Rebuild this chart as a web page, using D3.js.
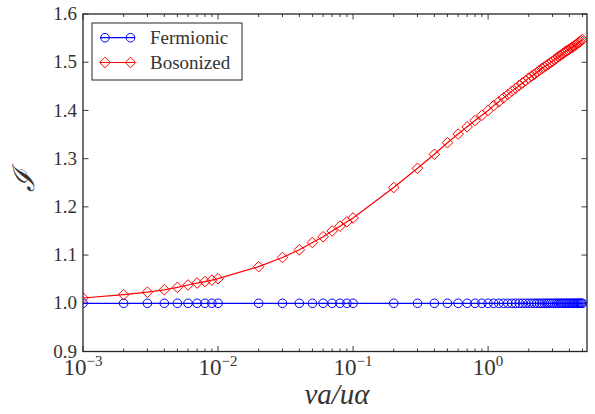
<!DOCTYPE html>
<html>
<head>
<meta charset="utf-8">
<script src="https://cdn.jsdelivr.net/npm/d3@7"></script>
<style>
  html, body { margin: 0; padding: 0; background: #fff; }
  svg { display: block; }
</style>
</head>
<body>
<svg id="chart" width="595" height="414"></svg>
<script>
// ---------- data ----------
const xValues = [
  0.001, 0.002, 0.003, 0.004, 0.005, 0.006, 0.007, 0.008, 0.009,
  0.01, 0.02, 0.03, 0.04, 0.05, 0.06, 0.07, 0.08, 0.09,
  0.1, 0.2, 0.3, 0.4, 0.5, 0.6, 0.7, 0.8, 0.9,
  1.0, 1.1, 1.2, 1.3, 1.4, 1.5, 1.6, 1.7, 1.8, 1.9,
  2.0, 2.1, 2.2, 2.3, 2.4, 2.5, 2.6, 2.7, 2.8, 2.9,
  3.0, 3.1, 3.2, 3.3, 3.4, 3.5, 3.6, 3.7, 3.8, 3.9,
  4.0, 4.1, 4.2, 4.3, 4.4, 4.5, 4.6, 4.7, 4.8, 4.9,
  5.0
];
const fermionic = [
  1, 1, 1, 1, 1, 1, 1, 1, 1,
  1, 1, 1, 1, 1, 1, 1, 1, 1,
  1, 1, 1, 1, 1, 1, 1, 1, 1,
  1, 1, 1, 1, 1, 1, 1, 1, 1, 1,
  1, 1, 1, 1, 1, 1, 1, 1, 1, 1,
  1, 1, 1, 1, 1, 1, 1, 1, 1, 1,
  1, 1, 1, 1, 1, 1, 1, 1, 1, 1,
  1
];
const bosonized = [
  1.011, 1.018, 1.023, 1.028, 1.033, 1.038, 1.042, 1.045, 1.048,
  1.051, 1.076, 1.095, 1.111, 1.126, 1.138, 1.150, 1.160, 1.169,
  1.177, 1.240, 1.280, 1.309, 1.333, 1.351, 1.366, 1.379, 1.390,
  1.400, 1.410, 1.418, 1.426, 1.433, 1.440, 1.446, 1.452, 1.457, 1.462,
  1.467, 1.471, 1.475, 1.479, 1.483, 1.487, 1.490, 1.493, 1.496, 1.499,
  1.502, 1.505, 1.508, 1.511, 1.513, 1.516, 1.518, 1.521, 1.523, 1.525,
  1.527, 1.529, 1.531, 1.533, 1.535, 1.537, 1.539, 1.541, 1.543, 1.545,
  1.547
];
const seriesNames = ["Fermionic", "Bosonized"];
const yTickValues = [0.9, 1.0, 1.1, 1.2, 1.3, 1.4, 1.5, 1.6];
const yTickLabels = ["0.9", "1.0", "1.1", "1.2", "1.3", "1.4", "1.5", "1.6"];
const xMajorTicks = [0.001, 0.01, 0.1, 1];
const xMajorExponents = ["\u22123", "\u22122", "\u22121", "0"];
const xDomain = [0.001, 5.4];
const yDomain = [0.9, 1.6];

// ---------- layout ----------
const svg = d3.select("#chart");
const L = 83, R = 587, T = 14, B = 351.5;
const axisColor = "#262626";
const textColor = "#333333";
const blue = "#0000ff", red = "#ff0000";
const serif = "'Liberation Serif', 'Times New Roman', serif";

const x = d3.scaleLog().domain(xDomain).range([L, R]);
const y = d3.scaleLinear().domain(yDomain).range([B, T]);

svg.append("defs").append("clipPath").attr("id", "clip")
  .append("rect").attr("x", L).attr("y", T).attr("width", R - L).attr("height", B - T);

// minor x ticks
const minorTicks = [];
for (let d = -3; d <= 0; d++) {
  for (let m = 2; m <= 9; m++) {
    const v = m * Math.pow(10, d);
    if (v <= xDomain[1]) minorTicks.push(v);
  }
}

const gAxes = svg.append("g");
minorTicks.forEach(v => {
  gAxes.append("line").attr("x1", x(v)).attr("x2", x(v)).attr("y1", B).attr("y2", B - 3)
    .attr("stroke", axisColor).attr("stroke-width", 0.9);
  gAxes.append("line").attr("x1", x(v)).attr("x2", x(v)).attr("y1", T).attr("y2", T + 3)
    .attr("stroke", axisColor).attr("stroke-width", 0.9);
});
xMajorTicks.forEach(v => {
  gAxes.append("line").attr("x1", x(v)).attr("x2", x(v)).attr("y1", B).attr("y2", B - 5.5)
    .attr("stroke", axisColor).attr("stroke-width", 0.9);
  gAxes.append("line").attr("x1", x(v)).attr("x2", x(v)).attr("y1", T).attr("y2", T + 5.5)
    .attr("stroke", axisColor).attr("stroke-width", 0.9);
});
yTickValues.forEach(v => {
  gAxes.append("line").attr("x1", L).attr("x2", L + 5.5).attr("y1", y(v)).attr("y2", y(v))
    .attr("stroke", axisColor).attr("stroke-width", 0.9);
  gAxes.append("line").attr("x1", R).attr("x2", R - 5.5).attr("y1", y(v)).attr("y2", y(v))
    .attr("stroke", axisColor).attr("stroke-width", 0.9);
});

// y tick labels
yTickValues.forEach((v, i) => {
  svg.append("text").attr("x", L - 6).attr("y", y(v)).attr("dy", "0.32em")
    .attr("text-anchor", "end")
    .attr("font-family", serif).attr("font-size", 19)
    .attr("fill", textColor).text(yTickLabels[i]);
});

// x tick labels (10^n)
xMajorTicks.forEach((v, i) => {
  const t = svg.append("text").attr("x", x(v)).attr("y", B + 23)
    .attr("text-anchor", "middle")
    .attr("font-family", serif).attr("font-size", 23)
    .attr("fill", textColor);
  t.append("tspan").text("10");
  t.append("tspan").attr("dy", -9).attr("font-size", 15).text(xMajorExponents[i]);
});

// axis labels
svg.append("text").attr("x", (L + R) / 2 + 2).attr("y", 404)
  .attr("text-anchor", "middle")
  .attr("font-family", serif).attr("font-style", "italic")
  .attr("font-size", 29).attr("fill", textColor).text("va/u\u03B1");

svg.append("text").attr("transform", `translate(34,${(T + B) / 2 - 2}) rotate(-90)`)
  .attr("text-anchor", "middle")
  .attr("font-family", serif).attr("font-style", "italic")
  .attr("font-size", 30).attr("fill", textColor).text("\u2110");

// ---------- data marks ----------
const plot = svg.append("g").attr("clip-path", "url(#clip)");
const line = d3.line().x(d => x(d[0])).y(d => y(d[1]));
const fermData = xValues.map((v, i) => [v, fermionic[i]]);
const bosData = xValues.map((v, i) => [v, bosonized[i]]);

const diamond = s => `M0,${-s}L${s},0L0,${s}L${-s},0Z`;

plot.append("path").datum(fermData).attr("d", line)
  .attr("fill", "none").attr("stroke", blue).attr("stroke-width", 1.2);
plot.selectAll("circle.f").data(fermData).enter().append("circle")
  .attr("cx", d => x(d[0])).attr("cy", d => y(d[1])).attr("r", 4.3)
  .attr("fill", "none").attr("stroke", blue).attr("stroke-width", 1);

plot.append("path").datum(bosData).attr("d", line)
  .attr("fill", "none").attr("stroke", red).attr("stroke-width", 1.2);
plot.selectAll("path.b").data(bosData).enter().append("path")
  .attr("transform", d => `translate(${x(d[0])},${y(d[1])})`)
  .attr("d", diamond(5.3))
  .attr("fill", "none").attr("stroke", red).attr("stroke-width", 1);

// axes box
svg.append("rect").attr("x", L).attr("y", T).attr("width", R - L).attr("height", B - T)
  .attr("fill", "none").attr("stroke", axisColor).attr("stroke-width", 1.3);

// ---------- legend ----------
const lg = svg.append("g");
lg.append("rect").attr("x", 92).attr("y", 23).attr("width", 150).attr("height", 57)
  .attr("fill", "#fff").attr("stroke", axisColor).attr("stroke-width", 1);
const legendRows = [
  { name: seriesNames[0], color: blue, y: 37.7, shape: "circle" },
  { name: seriesNames[1], color: red, y: 62.5, shape: "diamond" }
];
legendRows.forEach(r => {
  lg.append("line").attr("x1", 100).attr("x2", 135).attr("y1", r.y).attr("y2", r.y)
    .attr("stroke", r.color).attr("stroke-width", 1.2);
  [105, 130.5].forEach(cx => {
    if (r.shape === "circle") {
      lg.append("circle").attr("cx", cx).attr("cy", r.y).attr("r", 4.3)
        .attr("fill", "none").attr("stroke", r.color).attr("stroke-width", 1);
    } else {
      lg.append("path").attr("transform", `translate(${cx},${r.y})`).attr("d", diamond(5.3))
        .attr("fill", "none").attr("stroke", r.color).attr("stroke-width", 1);
    }
  });
  lg.append("text").attr("x", 150).attr("y", r.y).attr("dy", "0.34em")
    .attr("font-family", serif).attr("font-size", 19)
    .attr("fill", textColor).text(r.name);
});
</script>
</body>
</html>
